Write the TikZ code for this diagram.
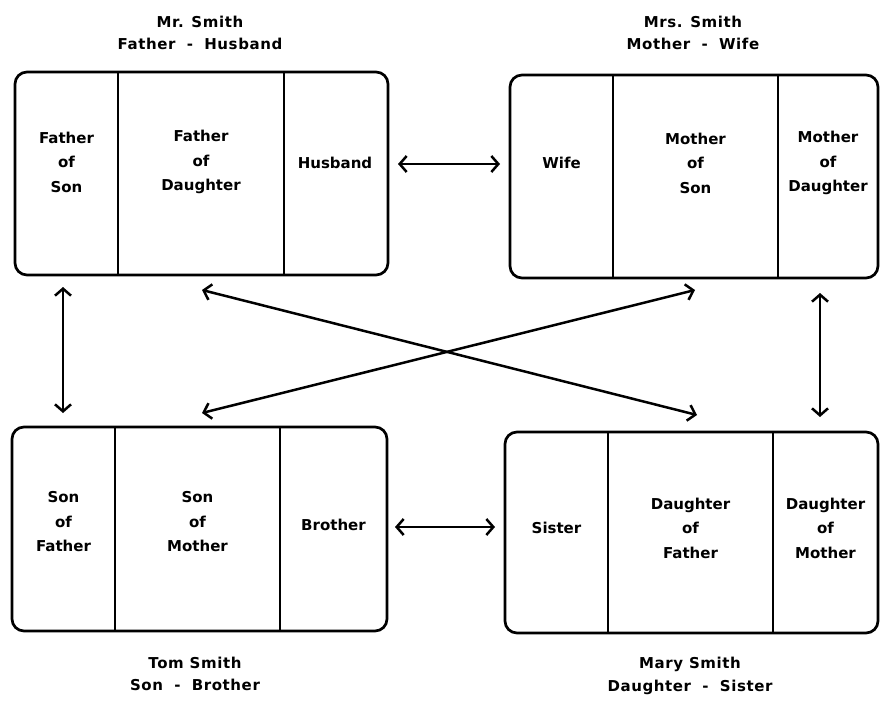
\documentclass[tikz,border=0pt]{standalone}
\usepackage{fontspec}
\setmainfont{DejaVu Sans}
\newfontfamily\labelfont{DejaVu Sans}[LetterSpace=4]
\usetikzlibrary{arrows.meta}
\newcommand\famdash{\hspace{0.75em}-\hspace{0.75em}}
\begin{document}
\begin{tikzpicture}[x=1pt,y=-1pt,
  famtext/.style={font=\bfseries\fontsize{15}{24.5}\selectfont, align=center, inner sep=0pt},
  namelabel/.style={font=\labelfont\bfseries\fontsize{15}{22.5}\selectfont, align=center, inner sep=0pt},
  personbox/.style={draw, line width=2.7pt, rounded corners=12pt, inner sep=0pt},
  divider/.style={line width=2.4pt},
  rel/.style={line width=2.5pt, {Straight Barb[length=7pt,width=16pt,line width=2.5pt]}-{Straight Barb[length=7pt,width=16pt,line width=2.5pt]}}
]
\useasboundingbox (0,0) rectangle (880,702);

% boxes
\node[personbox, minimum width=373pt, minimum height=203pt] (mr) at (201.5,173.5) {};
\node[personbox, minimum width=368pt, minimum height=203pt] (mrs) at (694,176.5) {};
\node[personbox, minimum width=375pt, minimum height=204pt] (tom) at (199.5,529) {};
\node[personbox, minimum width=373pt, minimum height=201pt] (mary) at (691.5,532.5) {};

% dividers
\draw[divider] (118,72) -- (118,275);
\draw[divider] (284,72) -- (284,275);
\draw[divider] (613,75) -- (613,278);
\draw[divider] (778,75) -- (778,278);
\draw[divider] (115,427) -- (115,631);
\draw[divider] (280,427) -- (280,631);
\draw[divider] (608,432) -- (608,633);
\draw[divider] (773,432) -- (773,633);

% cell texts
\node[famtext] (mr1) at (66.5,162) {Father\\of\\Son};
\node[famtext] (mr2) at (201,162) {Father\\of\\Daughter};
\node[famtext] (mr3) at (335,163) {Husband};
\node[famtext] (mrs1) at (561.5,163) {Wife};
\node[famtext] (mrs2) at (695.5,163) {Mother\\of\\Son};
\node[famtext] (mrs3) at (828,163) {Mother\\of\\Daughter};
\node[famtext] (tom1) at (63.5,522) {Son\\of\\Father};
\node[famtext] (tom2) at (197.5,522) {Son\\of\\Mother};
\node[famtext] (tom3) at (333.5,525) {Brother};
\node[famtext] (mary1) at (556.5,528) {Sister};
\node[famtext] (mary2) at (690.5,528) {Daughter\\of\\Father};
\node[famtext] (mary3) at (825.5,528) {Daughter\\of\\Mother};

% name labels
\node[namelabel] (mrlab) at (200,33) {Mr. Smith\\Father\famdash Husband};
\node[namelabel] (mrslab) at (693,33) {Mrs. Smith\\Mother\famdash Wife};
\node[namelabel] (tomlab) at (195,674) {Tom Smith\\Son\famdash Brother};
\node[namelabel] (marylab) at (690,676) {Mary Smith\\Daughter\famdash Sister};

% arrow end points
\coordinate (hwA) at (398,164);
\coordinate (hwB) at (500,164);
\coordinate (bsA) at (395,527);
\coordinate (bsB) at (495,527);
\coordinate (lvA) at (63,287);
\coordinate (lvB) at (63,413);
\coordinate (rvA) at (820,293);
\coordinate (rvB) at (820,417);
\coordinate (d1A) at (202,290);
\coordinate (d1B) at (697,415);
\coordinate (d2A) at (695,290);
\coordinate (d2B) at (202,413);

\draw[rel] (hwA) -- (hwB);
\draw[rel] (bsA) -- (bsB);
\draw[rel] (lvA) -- (lvB);
\draw[rel] (rvA) -- (rvB);
\draw[rel] (d1A) -- (d1B);
\draw[rel] (d2A) -- (d2B);
\end{tikzpicture}
\end{document}
